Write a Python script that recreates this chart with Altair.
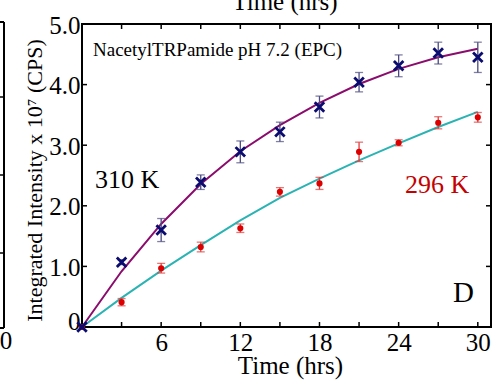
import altair as alt
import pandas as pd

# ---- data ----
time_h = [0, 3, 6, 9, 12, 15, 18, 21, 24, 27, 30]
i310 = [0.0, 1.07, 1.60, 2.39, 2.89, 3.22, 3.63, 4.04, 4.31, 4.52, 4.45]
e310 = [0.0, 0.04, 0.19, 0.12, 0.18, 0.16, 0.18, 0.16, 0.18, 0.18, 0.25]
i296 = [0.0, 0.41, 0.97, 1.32, 1.63, 2.23, 2.37, 2.89, 3.04, 3.37, 3.46]
e296 = [0.0, 0.06, 0.08, 0.08, 0.07, 0.07, 0.10, 0.16, 0.05, 0.10, 0.08]
fit310 = [0.0, 0.92, 1.70, 2.36, 2.90, 3.33, 3.70, 4.01, 4.26, 4.45, 4.59]
fit296 = [0.0, 0.48, 0.93, 1.35, 1.76, 2.13, 2.45, 2.75, 3.03, 3.30, 3.55]
x_ticks = [3, 6, 9, 12, 15, 18, 21, 24, 27, 30]
x_labels = [6, 12, 18, 24, 30]
y_ticks = [1, 2, 3, 4]
y_labels = [0, 1, 2, 3, 4, 5]

FONT = "Liberation Serif, Times New Roman, serif"
W, H = 409, 303

df = pd.DataFrame({
    "t": time_h, "i310": i310, "e310": e310, "i296": i296, "e296": e296,
    "f310": fit310, "f296": fit296,
})
df["lo310"] = df["i310"] - df["e310"]
df["hi310"] = df["i310"] + df["e310"]
df["lo296"] = df["i296"] - df["e296"]
df["hi296"] = df["i296"] + df["e296"]
dfe = df[df["t"] > 0]

xs = alt.Scale(domain=[0, 31], nice=False, zero=False)
ys = alt.Scale(domain=[0, 5], nice=False)

xaxis = alt.Axis(values=x_labels, ticks=False, domain=False, grid=False,
                 labelFont=FONT, labelFontSize=25, labelColor="black", labelPadding=3,
                 title="Time (hrs)", titleFont=FONT, titleFontSize=25,
                 titleFontWeight="normal", titleColor="black", titlePadding=-2,
                 titleX=208,
                 labelFlush=False, labelOverlap=False)
yaxis = alt.Axis(values=y_labels, ticks=False, domain=False, grid=False,
                 labelExpr="datum.value == 0 ? '0' : format(datum.value, '.1f')",
                 labelFont=FONT, labelFontSize=25, labelColor="black", labelPadding=2,
                 labelOffset={"condition": {"test": "datum.value == 0", "value": -6}, "value": 1},
                 title="Integrated Intensity x 10\u2077 (CPS)", titleFont=FONT,
                 titleFontSize=22, titleFontWeight="normal", titleColor="black",
                 titlePadding=2, titleY=156, labelOverlap=False, labelFlush=False)

base = alt.Chart(df)
X = alt.X("t:Q", scale=xs, axis=xaxis)

line310 = base.mark_line(color="#8a0c6c", strokeWidth=2).encode(
    x=X, y=alt.Y("f310:Q", scale=ys, axis=yaxis))
line296 = base.mark_line(color="#2bb3b3", strokeWidth=2).encode(
    x=alt.X("t:Q", scale=xs), y=alt.Y("f296:Q", scale=ys))

eb = alt.Chart(dfe)
err296 = eb.mark_rule(color="#e03a3a", strokeWidth=1.3).encode(
    x=alt.X("t:Q", scale=xs), y=alt.Y("lo296:Q", scale=ys), y2="hi296:Q")
cap296a = eb.mark_tick(color="#e03a3a", orient="horizontal", size=8, thickness=1.3).encode(
    x=alt.X("t:Q", scale=xs), y=alt.Y("lo296:Q", scale=ys))
cap296b = eb.mark_tick(color="#e03a3a", orient="horizontal", size=8, thickness=1.3).encode(
    x=alt.X("t:Q", scale=xs), y=alt.Y("hi296:Q", scale=ys))
err310 = eb.mark_rule(color="#4a4a80", strokeWidth=1.3).encode(
    x=alt.X("t:Q", scale=xs), y=alt.Y("lo310:Q", scale=ys), y2="hi310:Q")
cap310a = eb.mark_tick(color="#4a4a80", orient="horizontal", size=8, thickness=1.3).encode(
    x=alt.X("t:Q", scale=xs), y=alt.Y("lo310:Q", scale=ys))
cap310b = eb.mark_tick(color="#4a4a80", orient="horizontal", size=8, thickness=1.3).encode(
    x=alt.X("t:Q", scale=xs), y=alt.Y("hi310:Q", scale=ys))

pts296 = base.mark_point(shape="circle", filled=True, color="#dd0000", size=38, opacity=1).encode(
    x=alt.X("t:Q", scale=xs), y=alt.Y("i296:Q", scale=ys))
pts310 = base.mark_point(shape="M-1,-1L1,1M1,-1L-1,1", filled=False, color="#0c0c70",
                         size=90, strokeWidth=2.8, opacity=1).encode(
    x=alt.X("t:Q", scale=xs), y=alt.Y("i310:Q", scale=ys))

# inside ticks on all four sides
tdx = pd.DataFrame({"t": x_ticks})
tdy = pd.DataFrame({"v": y_ticks})
tick_b = alt.Chart(tdx).mark_rule(color="black", strokeWidth=1.5).encode(
    x=alt.X("t:Q", scale=xs), y=alt.value(H), y2=alt.value(H - 5))
tick_t = alt.Chart(tdx).mark_rule(color="black", strokeWidth=1.5).encode(
    x=alt.X("t:Q", scale=xs), y=alt.value(0), y2=alt.value(5))
tick_l = alt.Chart(tdy).mark_rule(color="black", strokeWidth=1.5).encode(
    y=alt.Y("v:Q", scale=ys), x=alt.value(0), x2=alt.value(5))
tick_r = alt.Chart(tdy).mark_rule(color="black", strokeWidth=1.5).encode(
    y=alt.Y("v:Q", scale=ys), x=alt.value(W), x2=alt.value(W - 5))

one = pd.DataFrame({"a": [0]})
def label(txt, x, y, size, color="black", align="left", baseline="middle"):
    return alt.Chart(one).mark_text(text=txt, font=FONT, fontSize=size, color=color,
                                    align=align, baseline=baseline).encode(
        x=alt.value(x), y=alt.value(y))

txt_title = label("NacetylTRPamide pH 7.2 (EPC)", 11, 26, 19)
txt_310 = label("310 K", 13, 156, 26)
txt_296 = label("296 K", 323, 161, 26, color="#c40000")
txt_d = label("D", 371, 269, 29)

# fragments of neighbouring panels of the original figure
nb_top = label("Time (hrs)", 203, -14, 25, align="center", baseline="alphabetic")
nb_zero = label("0", -76, 317, 25, align="center")
nb_frame = alt.Chart(one).mark_rule(color="black", strokeWidth=2).encode(
    x=alt.value(-78), y=alt.value(-2), y2=alt.value(304))
nb_h1 = alt.Chart(one).mark_rule(color="black", strokeWidth=2).encode(
    x=alt.value(-83), x2=alt.value(-78), y=alt.value(-2))
nb_h2 = alt.Chart(one).mark_rule(color="black", strokeWidth=2).encode(
    x=alt.value(-83), x2=alt.value(-78), y=alt.value(304))
nb_t1 = alt.Chart(one).mark_rule(color="black", strokeWidth=1.5).encode(
    x=alt.value(-83), x2=alt.value(-78), y=alt.value(73))
nb_t2 = alt.Chart(one).mark_rule(color="black", strokeWidth=1.5).encode(
    x=alt.value(-83), x2=alt.value(-78), y=alt.value(151))
nb_t3 = alt.Chart(one).mark_rule(color="black", strokeWidth=1.5).encode(
    x=alt.value(-83), x2=alt.value(-78), y=alt.value(229))

chart = alt.layer(
    line310, line296,
    err296, cap296a, cap296b, err310, cap310a, cap310b,
    pts296, pts310,
    tick_b, tick_t, tick_l, tick_r,
    txt_title, txt_310, txt_296, txt_d,
    nb_top, nb_zero, nb_frame, nb_h1, nb_h2, nb_t1, nb_t2, nb_t3,
).properties(
    width=W, height=H,
    autosize=alt.AutoSizeParams(type="none"),
    padding={"left": 82, "top": 24, "right": 11, "bottom": 53},
    background="white",
).configure_view(stroke="black", strokeWidth=2)

chart.save("out.html", embed_options={"renderer": "svg", "actions": False})
